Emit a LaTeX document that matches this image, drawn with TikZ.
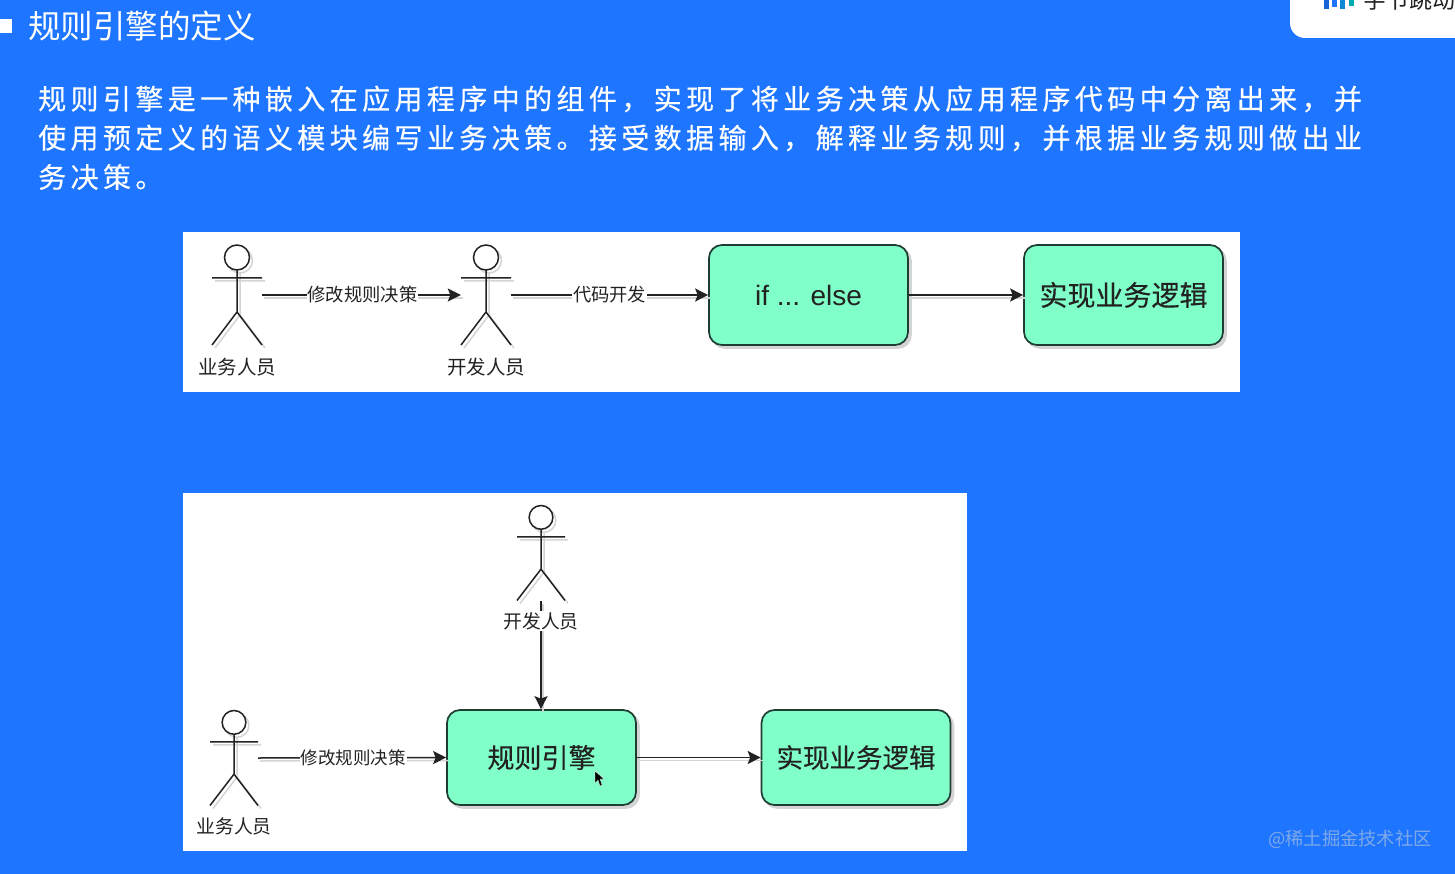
\documentclass[tikz,border=0pt]{standalone}
\usepackage{fontspec}
\setmainfont{Noto Sans CJK SC}
\newfontfamily\latinfont{Liberation Sans}
\usetikzlibrary{arrows.meta}
\definecolor{bgblue}{HTML}{1E75FF}
\definecolor{mint}{HTML}{80FFC8}
\definecolor{inkc}{HTML}{222222}
\definecolor{boxline}{HTML}{1F3D33}
\definecolor{shade}{HTML}{D4D4D4}
\definecolor{marktext}{HTML}{7FA8E8}
\newcommand{\fs}[1]{\fontsize{#1}{#1}\selectfont}
\tikzset{
  x=1pt,y=-1pt,
  panel/.style={fill=white,draw=none},
  procbox/.style={draw=boxline,line width=1.7pt,fill=mint,rounded corners=13pt,inner sep=0pt,
    text=inkc,preaction={draw=shade,fill=shade,line width=1.7pt,transform canvas={shift={(3pt,-3pt)}}}},
  flow/.style={draw=inkc,line width=1.5pt,-{Stealth[length=13pt,width=13pt,inset=2.5pt]},
    preaction={draw=shade,-,line width=1.5pt,transform canvas={shift={(2pt,-3pt)}}}},
  edgelabel/.style={fill=white,inner sep=1pt,text=inkc},
  actorlabel/.style={text=inkc,inner sep=1pt},
  actorbase/.style={inner sep=0pt,draw=none},
  stick/.style={draw=inkc,line width=1.5pt},
  stickshade/.style={draw=shade,line width=1.5pt},
  bodytext/.style={anchor=west,text=white,inner sep=0pt},
}
\newcommand{\actorpath}[5]{%
  % #1 style, #2 cx, #3 cy, #4 w, #5 h
  \pgfmathsetmacro{\tp}{#3-#5/2}%
  \pgfmathsetmacro{\bt}{#3+#5/2}%
  \pgfmathsetmacro{\rr}{#5/8}%
  \pgfmathsetmacro{\hy}{\tp+\rr}%
  \pgfmathsetmacro{\ay}{\tp+#5*0.33}%
  \pgfmathsetmacro{\ly}{\tp+#5*0.67}%
  \pgfmathsetmacro{\lx}{#2-#4/2}%
  \pgfmathsetmacro{\rx}{#2+#4/2}%
  \pgfmathsetmacro{\ny}{\tp+2*\rr}%
  \draw[#1,fill=white] (#2,\hy) circle[radius=\rr];
  \draw[#1] (#2,\ny) -- (#2,\ly) (\lx,\ay) -- (\rx,\ay) (\lx,\bt) -- (#2,\ly) -- (\rx,\bt);
}
\newcommand{\actorfig}[5]{%
  \node[actorbase,minimum width=#4,minimum height=#5] (#1) at (#2,#3) {};
  \begin{scope}[shift={(3pt,-3pt)}]\actorpath{stickshade}{#2}{#3}{#4}{#5}\end{scope}
  \actorpath{stick}{#2}{#3}{#4}{#5}
}
\begin{document}
\begin{tikzpicture}
\useasboundingbox (0,0) rectangle (1455,874);
\clip (0,0) rectangle (1455,874);
\fill[bgblue] (0,0) rectangle (1455,874);

% logo card
\fill[white,rounded corners=15pt] (1290,-30) rectangle (1480,38);
\fill[bgblue!85!black] (1324,-5) rectangle (1329,9);
\fill[bgblue] (1332,-5) rectangle (1337,7);
\fill[cyan!70!blue] (1340,-5) rectangle (1345,9);
\fill[cyan!60!green] (1349,-5) rectangle (1354,6);
\node[anchor=west,inner sep=0pt,text=inkc] (logo) at (1363,0) {\fs{23}字节跳动};

% title
\fill[white] (0,19) rectangle (12,33);
\node[anchor=west,inner sep=0pt,text=white] (title) at (28,26.5) {\fs{32.5}规则引擎的定义};

% paragraph
\node[bodytext] (l1) at (38,99) {\fs{28}\addfontfeature{LetterSpace=15.7,FakeBold=0.4}规则引擎是一种嵌入在应用程序中的组件，实现了将业务决策从应用程序代码中分离出来，并};
\node[bodytext] (l2) at (38,138) {\fs{28}\addfontfeature{LetterSpace=15.7,FakeBold=0.4}使用预定义的语义模块编写业务决策。接受数据输入，解释业务规则，并根据业务规则做出业};
\node[bodytext] (l3) at (38,177) {\fs{28}\addfontfeature{LetterSpace=15.7,FakeBold=0.4}务决策。};

% panels
\fill[panel] (183,232) rectangle (1240,392);
\fill[panel] (183,493) rectangle (967,851);

% top diagram
\actorfig{a1}{237}{295}{50}{100}
\actorfig{a2}{486}{295}{50}{100}
\node[actorlabel] (a1t) at (237,367) {\fs{19.5}业务人员};
\node[actorlabel] (a2t) at (486,367) {\fs{19.5}开发人员};
\node[procbox,minimum width=199,minimum height=100] (b1) at (808.5,295) {\fs{28}\latinfont if ... else};
\node[procbox,minimum width=199,minimum height=100] (b2) at (1123.5,295) {\fs{28}\addfontfeature{FakeBold=0.3}实现业务逻辑};
\draw[flow] (a1.east) -- node[edgelabel,pos=.505] {\fs{18.3}修改规则决策} (a2.west);
\draw[flow] (a2.east) -- node[edgelabel,pos=.5] {\fs{18.3}代码开发} (b1.west);
\draw[flow] (b1.east) -- (b2.west);

% bottom diagram
\actorfig{a3}{541}{553}{48}{95}
\actorfig{a4}{234}{758}{48}{95}
\node[procbox,minimum width=189,minimum height=95] (b3) at (541.5,757.5) {\fs{27}\addfontfeature{FakeBold=0.3}规则引擎};
\node[procbox,minimum width=189,minimum height=95] (b4) at (856,757.5) {\fs{26.5}\addfontfeature{FakeBold=0.3}实现业务逻辑};
\draw[flow] (a3.south) -- (a3.south |- b3.north);
\node[actorlabel,fill=white] (a3t) at (541,621) {\fs{18.8}开发人员};
\node[actorlabel] (a4t) at (234,826) {\fs{18.8}业务人员};
\draw[flow] (a4.east) -- node[edgelabel,pos=.505] {\fs{17.5}修改规则决策} (b3.west);
\draw[flow] (b3.east) -- (b4.west);

% mouse cursor
\draw[fill=black,draw=white,line width=.3pt] (595,771) -- (595,783) -- (598,780) -- (600,786) -- (602,785) -- (600,779) -- (604,779) -- cycle;

% watermark
\node[inner sep=0pt,text=marktext] (wm) at (1350,839) {\fs{18.3}@稀土掘金技术社区};
\end{tikzpicture}
\end{document}
